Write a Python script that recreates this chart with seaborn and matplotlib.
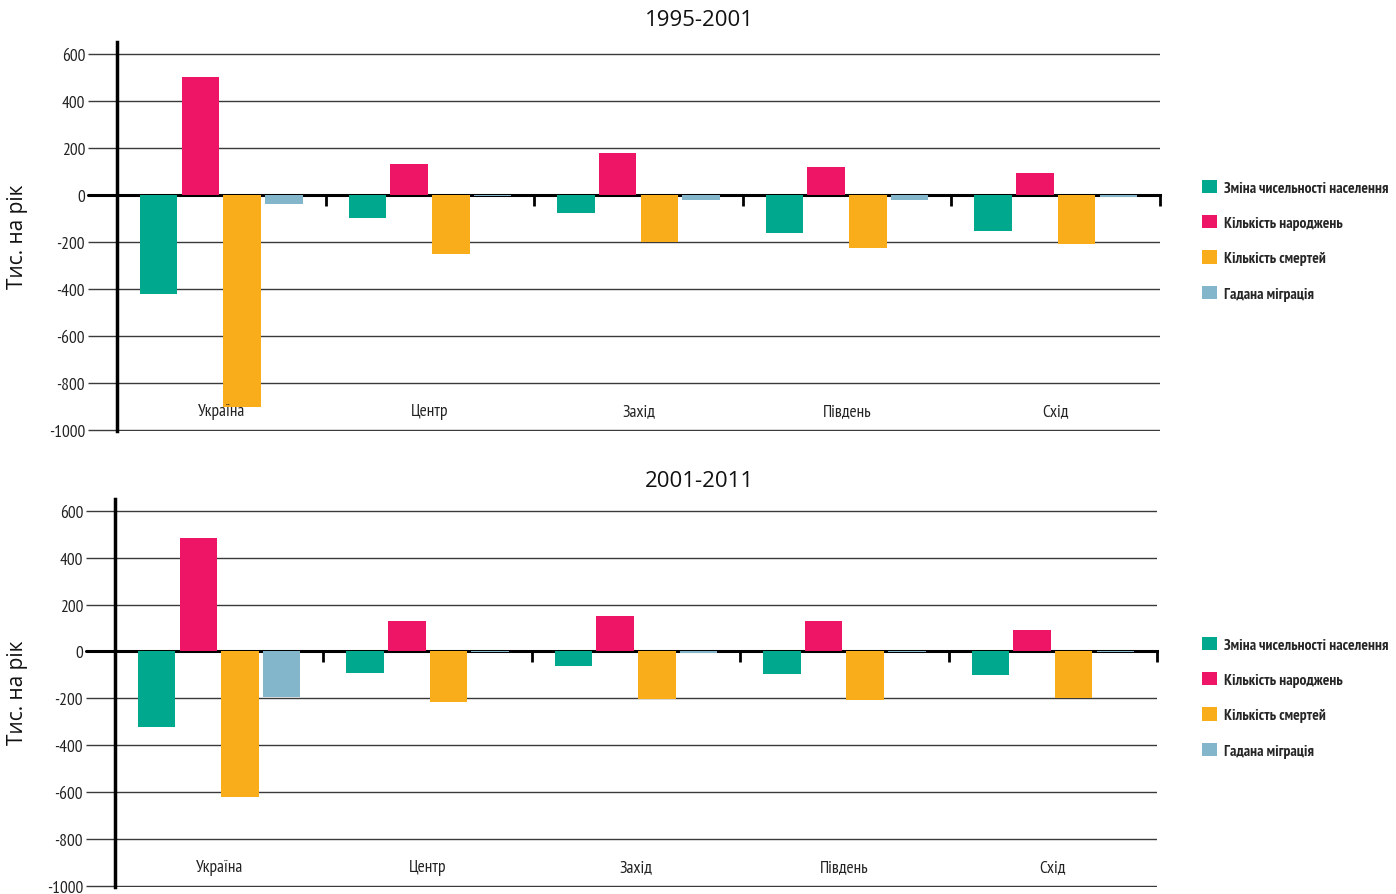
import matplotlib
matplotlib.use("Agg")
import matplotlib.pyplot as plt
from matplotlib import font_manager
import seaborn as sns
import pandas as pd

regions = ["Україна", "Центр", "Захід", "Південь", "Схід"]
series = ["Зміна чисельності населення", "Кількість народжень", "Кількість смертей", "Гадана міграція"]
colors = ["#00A88E", "#EE1566", "#FAAD1B", "#84B6CB"]

change_1995 = [-420, -97, -75, -162, -153]
births_1995 = [502, 132, 179, 119, 94]
deaths_1995 = [-900, -251, -200, -225, -208]
migr_1995 = [-37, -4, -20, -20, -8]

change_2001 = [-323, -90, -64, -94, -100]
births_2001 = [483, 128, 150, 128, 90]
deaths_2001 = [-620, -214, -201, -205, -197]
migr_2001 = [-195, -4, -6, -4, -4]

yticks = [600, 400, 200, 0, -200, -400, -600, -800, -1000]
titles = ["1995-2001", "2001-2011"]
ylabel = "Тис. на рік"

names = {f.name for f in font_manager.fontManager.ttflist}
narrow = "DejaVu Sans"
for cand in ["PT Sans Narrow", "Fira Sans Condensed", "Roboto Condensed",
             "IBM Plex Sans Condensed", "Ubuntu Condensed", "Open Sans Condensed"]:
    if cand in names:
        narrow = cand
        break

sns.set_theme(style="white")
plt.rcParams["font.family"] = ["Open Sans", "DejaVu Sans"]


def frame(ch, bi, de, mi):
    rows = []
    for s, vals in zip(series, [ch, bi, de, mi]):
        for r, v in zip(regions, vals):
            rows.append({"region": r, "series": s, "value": v})
    return pd.DataFrame(rows)


fig = plt.figure(figsize=(13.96, 8.95), dpi=100)
W, H = 1396, 895
layouts = [(117, 43, 1160, 432), (115, 500, 1157, 888)]
datasets = [(change_1995, births_1995, deaths_1995, migr_1995),
            (change_2001, births_2001, deaths_2001, migr_2001)]
title_y = [20, 482]
legend_top = [173, 630]
ylabel_y = [237, 693]

for k in range(2):
    x0, y0, x1, y1 = layouts[k]
    ax = fig.add_axes([x0 / W, 1 - y1 / H, (x1 - x0) / W, (y1 - y0) / H])
    df = frame(*datasets[k])
    sns.barplot(data=df, x="region", y="value", hue="series", order=regions,
                hue_order=series, palette=colors, width=0.8, gap=0.1,
                saturation=1, ax=ax, legend=True, errorbar=None, linewidth=0, zorder=3)
    ax.set_ylim(-1004, 650)
    ax.set_xlim(-0.5, 4.5)
    ax.set_yticks(yticks)
    ax.set_yticklabels([str(v) for v in yticks], fontsize=12.5, color="#222222", family=narrow)
    ax.yaxis.grid(True, color="#3a3a3a", lw=1.0)
    ax.set_axisbelow(True)
    ax.tick_params(axis="y", which="major", direction="out", length=21, width=1.0,
                   color="#3a3a3a", pad=2, left=True)
    for s in ["top", "right"]:
        ax.spines[s].set_visible(False)
    ax.spines["left"].set_linewidth(2.5)
    ax.spines["left"].set_color("black")
    ax.spines["left"].set_zorder(5)
    ax.spines["bottom"].set_position(("data", 0))
    ax.spines["bottom"].set_linewidth(2.2)
    ax.spines["bottom"].set_color("black")
    ax.spines["bottom"].set_zorder(2)
    ax.axhline(0, xmin=-29 / (x1 - x0), xmax=0, color="black", lw=2.2, clip_on=False, zorder=2)
    ax.set_xticks([0.5, 1.5, 2.5, 3.5, 4.5])
    ax.set_xticklabels([])
    ax.tick_params(axis="x", direction="out", length=8, width=2, color="black", bottom=True)
    for i, r in enumerate(regions):
        ax.text(i, -920, r, ha="center", va="center", fontsize=12.5, color="#222222", family=narrow)
    ax.set_xlabel("")
    ax.set_ylabel("")
    handles, labels = ax.get_legend_handles_labels()
    ax.legend(handles, labels, loc="upper left",
              bbox_to_anchor=(1194 / W, 1 - legend_top[k] / H),
              bbox_transform=fig.transFigure, frameon=False, handlelength=0.95,
              handleheight=0.95, handletextpad=0.45, labelspacing=1.3, borderpad=0,
              prop={"family": narrow, "weight": "bold", "size": 11.2})
    fig.text(699 / W, 1 - title_y[k] / H, titles[k], ha="center", va="center", fontsize=16, color="#111111")
    fig.text(18 / W, 1 - ylabel_y[k] / H, ylabel, ha="center", va="center", rotation=90,
             fontsize=15, color="#111111")

fig.savefig("out.png", dpi=100)
